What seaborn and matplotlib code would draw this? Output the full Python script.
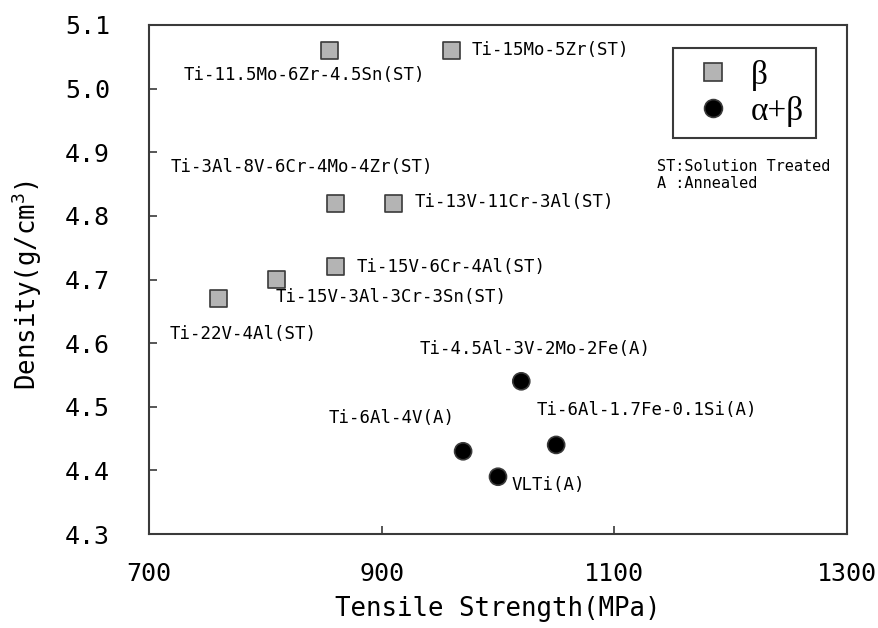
import pandas as pd
import seaborn as sns
import matplotlib.pyplot as plt

# alloys, tensile strength (MPa), density (g/cm3)
alloys = ["Ti-11.5Mo-6Zr-4.5Sn(ST)", "Ti-15Mo-5Zr(ST)", "Ti-3Al-8V-6Cr-4Mo-4Zr(ST)",
          "Ti-13V-11Cr-3Al(ST)", "Ti-15V-6Cr-4Al(ST)", "Ti-15V-3Al-3Cr-3Sn(ST)",
          "Ti-22V-4Al(ST)", "Ti-4.5Al-3V-2Mo-2Fe(A)", "Ti-6Al-4V(A)",
          "VLTi(A)", "Ti-6Al-1.7Fe-0.1Si(A)"]
strength = [855, 960, 860, 910, 860, 810, 760, 1020, 970, 1000, 1050]
density = [5.06, 5.06, 4.82, 4.82, 4.72, 4.70, 4.67, 4.54, 4.43, 4.39, 4.44]
phase = ["β"] * 7 + ["α+β"] * 4

# label offsets from the marker, in pixels (dx, dy up)
label_offsets = [(-146, -25), (20, 0), (-165, 36), (21, 1), (21, 0), (-1, -17),
                 (-49, -35), (-102, 32), (-134, 33), (14, -8), (-20, 35)]

df = pd.DataFrame({"alloy": alloys, "strength": strength,
                   "density": density, "phase": phase})

sns.set_style("white")
mono = "DejaVu Sans Mono"
plt.rcParams["font.family"] = [mono]
plt.rcParams["mathtext.default"] = "regular"
plt.rcParams["text.color"] = "black"
plt.rcParams["axes.labelcolor"] = "black"

fig = plt.figure(figsize=(8.79, 6.28), dpi=100)
ax = fig.add_axes([149 / 879, 1 - 534 / 628, 698 / 879, 509 / 628])

sns.scatterplot(data=df, x="strength", y="density", hue="phase", style="phase",
                markers={"β": "s", "α+β": "o"},
                palette={"β": "#b4b4b4", "α+β": "black"},
                s=150, edgecolor="#3a3a3a", linewidth=1.2, ax=ax)

for name, x, y, (dx, dy) in zip(alloys, strength, density, label_offsets):
    ax.annotate(name, (x, y), xytext=(dx * 0.72, dy * 0.72), textcoords="offset points",
                ha="left", va="center", fontsize=12.5, family=mono, color="black")

ax.set_xlim(700, 1300)
ax.set_ylim(4.3, 5.1)
ax.set_xticks([700, 900, 1100, 1300])
ax.set_yticks([4.3, 4.4, 4.5, 4.6, 4.7, 4.8, 4.9, 5.0, 5.1])
ax.set_yticklabels([f"{v:.1f}" for v in ax.get_yticks()])
ax.tick_params(bottom=True, left=True, direction="in", length=6, width=1.2,
               colors="#3a3a3a", labelcolor="black", labelsize=18)
ax.tick_params(axis="y", pad=28)
ax.tick_params(axis="x", pad=20)
for sp in ax.spines.values():
    sp.set_color("#3a3a3a")
    sp.set_linewidth(1.5)

ax.set_xlabel("Tensile Strength(MPa)", fontsize=18.5)
ax.set_ylabel("Density(g/cm$^3$)", fontsize=18.5)
ax.xaxis.set_label_coords(0.5, -0.122)
ax.yaxis.set_label_coords(-0.15, 0.49)

handles, labels = ax.get_legend_handles_labels()
leg = ax.legend(handles, labels, loc="upper right", bbox_to_anchor=(0.9556, 0.9548),
                borderaxespad=0, frameon=True, fancybox=False, framealpha=1,
                edgecolor="#3a3a3a", prop={"family": "Liberation Serif", "size": 24},
                handletextpad=0.3, labelspacing=0.15, borderpad=0.35,
                handlelength=1.7, markerscale=1.05)
leg.get_frame().set_linewidth(1.5)

ax.text(0.728, 0.737, "ST:Solution Treated\nA :Annealed", transform=ax.transAxes,
        ha="left", va="top", fontsize=11, linespacing=1.2, family=mono)

fig.savefig("out.png", dpi=100)
